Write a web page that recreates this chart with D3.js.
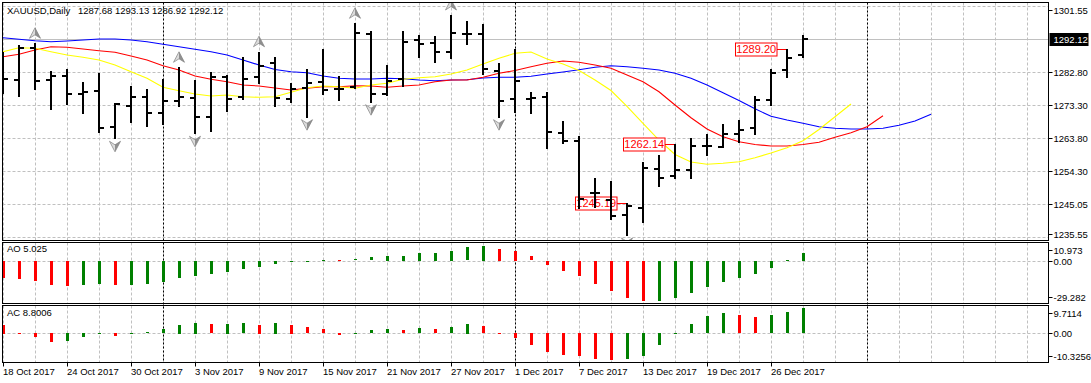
<!DOCTYPE html>
<html><head><meta charset="utf-8">
<script src="https://cdn.jsdelivr.net/npm/d3@7"></script>
<style>
html,body{margin:0;padding:0;background:#fff;}
svg{display:block;font-family:"Liberation Sans",Arial,sans-serif;}
</style></head><body>
<svg id="chart" width="1091" height="383"></svg>
<script>
// ---------------- DATA ----------------
const symbolTitle = "XAUUSD,Daily";
const headerValues = "1287.68 1293.13 1286.92 1292.12";
const aoTitle = "AO 5.025";
const acTitle = "AC 8.8006";

const dates = ["18 Oct 2017","19 Oct 2017","20 Oct 2017","23 Oct 2017","24 Oct 2017","25 Oct 2017","26 Oct 2017","27 Oct 2017",
"30 Oct 2017","31 Oct 2017","1 Nov 2017","2 Nov 2017","3 Nov 2017","6 Nov 2017","7 Nov 2017","8 Nov 2017","9 Nov 2017",
"10 Nov 2017","13 Nov 2017","14 Nov 2017","15 Nov 2017","16 Nov 2017","17 Nov 2017","20 Nov 2017","21 Nov 2017","22 Nov 2017",
"23 Nov 2017","24 Nov 2017","27 Nov 2017","28 Nov 2017","29 Nov 2017","30 Nov 2017","1 Dec 2017","4 Dec 2017","5 Dec 2017",
"6 Dec 2017","7 Dec 2017","8 Dec 2017","11 Dec 2017","12 Dec 2017","13 Dec 2017","14 Dec 2017","15 Dec 2017","18 Dec 2017",
"19 Dec 2017","20 Dec 2017","21 Dec 2017","22 Dec 2017","26 Dec 2017","27 Dec 2017","28 Dec 2017"];

const open = [1283.26,1280.41,1289.46,1280.41,1281.55,1276.41,1277.26,1267.06,1272.98,1275.64,1271.06,1274.41,1275.35,1269.92,
1281.35,1275.64,1281.18,1285.18,1274.89,1278.21,1279.92,1277.92,1278.32,1293.46,1276.41,1280.61,1291.84,1290.89,1288.49,
1293.55,1293.46,1283.06,1274.89,1274.89,1275.64,1265.35,1262.89,1248.12,1246.12,1241.84,1243.75,1254.98,1252.89,1254.78,
1261.55,1261.35,1265.12,1266.78,1274.69,1283.26,1287.68];
const high = [1288.49,1290.41,1290.89,1283.06,1283.55,1279.92,1282.49,1273.75,1278.69,1277.75,1280.69,1284.04,1280.41,1282.78,
1281.84,1287.06,1288.49,1286.89,1279.46,1283.46,1289.18,1281.55,1296.61,1294.49,1284.69,1294.41,1293.26,1292.98,1298.98,
1297.26,1296.41,1285.35,1289.18,1276.89,1276.89,1268.78,1264.41,1252.32,1251.55,1245.19,1256.89,1258.98,1262.14,1263.84,
1264.89,1267.75,1268.98,1275.84,1283.46,1289.20,1293.13];
const low = [1276.78,1275.92,1277.75,1272.21,1273.46,1270.89,1265.64,1263.75,1268.49,1267.26,1267.84,1272.98,1265.18,1265.92,
1271.64,1274.98,1279.64,1272.98,1274.21,1269.92,1276.41,1274.69,1278.04,1274.21,1276.12,1278.78,1286.89,1285.64,1286.61,
1290.61,1282.04,1269.92,1271.35,1270.89,1260.89,1262.32,1243.75,1244.04,1240.61,1236.12,1239.92,1250.21,1252.49,1252.49,
1258.89,1261.18,1262.78,1264.89,1273.18,1281.35,1286.92];
const close = [1280.69,1289.46,1280.21,1281.55,1276.41,1276.89,1266.61,1273.55,1275.64,1271.06,1274.41,1275.64,1269.75,1281.35,
1274.98,1280.78,1284.49,1275.26,1277.75,1279.64,1277.55,1277.85,1293.92,1276.41,1280.12,1291.35,1290.78,1288.49,1293.92,
1293.60,1283.46,1274.49,1280.04,1275.35,1265.64,1262.98,1246.41,1248.05,1241.64,1244.41,1255.18,1252.32,1254.69,1261.64,
1261.60,1264.89,1266.12,1274.61,1282.32,1286.61,1292.12];

// Alligator lines (values as drawn, already shifted forward)
const jaw = [1292.49,1292.04,1291.64,1291.35,1291.55,1291.84,1292.12,1292.12,1291.84,1291.35,1290.61,1289.92,1289.18,1288.49,
1287.55,1286.12,1284.69,1283.41,1282.78,1282.49,1281.55,1280.89,1280.69,1280.69,1280.89,1280.78,1280.41,1280.21,1280.41,
1280.49,1280.98,1281.18,1281.18,1281.49,1282.12,1282.69,1283.35,1284.04,1284.49,1284.21,1283.75,1283.26,1282.32,1280.89,
1278.98,1276.78,1274.55,1272.18,1270.04,1268.98,1268.04,1267.06,1266.61,1266.41,1266.41,1266.61,1267.46,1268.69,1270.61];
const teeth = [1287.06,1287.75,1288.98,1289.92,1289.75,1289.26,1288.78,1288.32,1287.26,1286.12,1284.49,1283.26,1281.55,1280.61,
1279.92,1278.98,1278.69,1278.12,1277.55,1278.04,1278.49,1278.49,1278.78,1278.69,1278.32,1278.69,1278.98,1279.92,1280.41,
1280.41,1281.18,1282.32,1283.12,1284.21,1285.18,1285.84,1285.46,1284.69,1283.75,1281.84,1279.92,1277.06,1273.26,1269.61,
1266.41,1264.21,1262.75,1261.98,1261.55,1261.55,1261.98,1262.61,1264.04,1265.35,1267.06,1270.21];
const lips = [1288.49,1289.64,1289.46,1288.49,1287.55,1286.89,1286.12,1284.69,1282.78,1280.89,1278.32,1277.35,1276.41,1275.84,
1276.12,1275.64,1275.46,1275.64,1276.89,1278.21,1278.69,1278.49,1278.04,1278.98,1279.46,1280.61,1281.06,1281.35,1282.12,
1283.26,1284.98,1286.61,1288.04,1288.41,1286.41,1284.98,1283.12,1280.41,1277.41,1272.84,1267.98,1263.26,1259.12,1256.98,
1256.32,1256.61,1257.06,1258.18,1259.55,1261.04,1263.04,1266.26,1269.92,1273.55];

const ao = [-12.4,-13.1,-14.9,-17.8,-17.95,-17.3,-17.1,-17.9,-17.3,-17.1,-15.6,-12.6,-11.1,-9.3,-7.8,-5.8,-4.3,-2.0,-0.75,-0.3,
0.6,0.35,0.9,2.5,3.5,3.6,5.5,5.8,7.3,9.8,10.973,8.6,7.2,3.2,-2.7,-7.1,-10.7,-16.6,-21.7,-26.8,-29.282,-29.0,-27.1,-23.2,
-18.8,-15.1,-12.2,-9.3,-4.9,0.6,5.8];
const ac = [3.3,-0.2,-1.7,-3.5,-3.1,-1.5,-0.4,-1.1,-0.3,0.5,1.7,3.3,4.1,3.6,3.7,3.8,3.3,4.1,3.3,2.5,1.7,-0.7,0.3,1.2,1.6,1.3,
2.1,1.7,2.5,3.7,2.9,0.15,-1.8,-4.6,-7.3,-8.4,-8.8,-10.2,-10.3256,-10.1,-8.8,-4.5,0.2,3.6,6.7,7.9,7.1,6.3,7.1,8.25,9.7114];

const fractalUp = [2, 11, 16, 22, 28];
const fractalDown = [7, 12, 19, 23, 31, 39];

const markBars = [39, 42, 49];
const markValues = [1245.19, 1262.14, 1289.20];

const priceTicks = [1301.55, 1282.80, 1273.30, 1263.80, 1254.30, 1245.05, 1235.55];
const bidPrice = 1292.12;
const aoTicks = [10.973, 0, -29.282];
const aoTickLabels = ["10.973", "0.00", "-29.282"];
const acTicks = [9.7114, 0, -10.3256];
const acTickLabels = ["9.7114", "0.00", "-10.3256"];
const separators = [10, 32, 54];

// ---------------- LAYOUT ----------------
const L = 2.5, R = 1048.5;
const main = {top: 2.5, bottom: 240.5};
const aoP = {top: 242.5, bottom: 303.5};
const acP = {top: 305.5, bottom: 362.5};

const svg = d3.select("#chart");
const x = d3.scaleLinear().domain([0, 1]).range([3, 19]);
const y = d3.scaleLinear().domain([1235.55, 1301.55]).range([237, 6]);
const yAO = d3.scaleLinear().domain([-29.282, 10.973]).range([300.7, 245.7]);
const yAC = d3.scaleLinear().domain([-10.3256, 9.7114]).range([360, 308.2]);

const FONT = "9.5px";
const defs = svg.append("defs");
[["clipMain", main], ["clipAO", aoP], ["clipAC", acP]].forEach(([id, p]) => {
  defs.append("clipPath").attr("id", id).append("rect")
    .attr("x", L).attr("y", p.top).attr("width", R - L).attr("height", p.bottom - p.top);
});

// grid
const gridX = d3.range(0, 66, 2).filter(i => x(i) < R);
const grid = svg.append("g");
[main, aoP, acP].forEach(p => {
  grid.selectAll(null).data(gridX).enter().append("line")
    .attr("x1", i => Math.round(x(i)) + 0.5).attr("x2", i => Math.round(x(i)) + 0.5)
    .attr("y1", p.top).attr("y2", p.bottom)
    .attr("stroke", "#c0c0c0").attr("stroke-dasharray", "3,2");
});
grid.selectAll(null).data(priceTicks.concat([bidPrice])).enter().append("line")
  .attr("x1", L).attr("x2", R)
  .attr("y1", d => Math.round(y(d)) + 0.5).attr("y2", d => Math.round(y(d)) + 0.5)
  .attr("stroke", "#c0c0c0").attr("stroke-dasharray", "3,2");
grid.append("line").attr("x1", L).attr("x2", R)
  .attr("y1", Math.round(yAO(0)) + 0.5).attr("y2", Math.round(yAO(0)) + 0.5)
  .attr("stroke", "#c0c0c0").attr("stroke-dasharray", "3,2");
grid.append("line").attr("x1", L).attr("x2", R)
  .attr("y1", Math.round(yAC(0)) + 0.5).attr("y2", Math.round(yAC(0)) + 0.5)
  .attr("stroke", "#c0c0c0").attr("stroke-dasharray", "3,2");

// bid line
svg.append("line").attr("x1", L).attr("x2", R)
  .attr("y1", Math.round(y(bidPrice)) + 0.5).attr("y2", Math.round(y(bidPrice)) + 0.5)
  .attr("stroke", "#c0c0c0");

// separators
svg.selectAll(null).data(separators).enter().append("line")
  .attr("x1", i => Math.round(x(i)) + 0.5).attr("x2", i => Math.round(x(i)) + 0.5)
  .attr("y1", main.top).attr("y2", acP.bottom)
  .attr("stroke", "#000").attr("stroke-dasharray", "2,2");

// main content
const gm = svg.append("g").attr("clip-path", "url(#clipMain)");
const lineGen = d3.line().x((d, i) => x(i)).y(d => y(d));
[[jaw, "#0000ff"], [teeth, "#ff0000"], [lips, "#ffff00"]].forEach(([arr, c]) => {
  gm.append("path").datum(arr).attr("d", lineGen).attr("fill", "none")
    .attr("stroke", c).attr("stroke-width", 1.1);
});

// price marks (drawn under the bars, as in the terminal)
markBars.forEach((b, k) => {
  const v = markValues[k];
  const yy = Math.round(y(v)) + 0.5;
  const bx = Math.round(x(b));
  const right = bx - 10;
  gm.append("line").attr("x1", right).attr("x2", bx).attr("y1", yy).attr("y2", yy).attr("stroke", "#ff0000");
  gm.append("rect").attr("x", right - 41.5).attr("y", yy - 6.5).attr("width", 41.5).attr("height", 13)
    .attr("fill", "#fff").attr("stroke", "#ff0000");
  gm.append("text").attr("x", right - 20.75).attr("y", yy).attr("dy", "0.36em")
    .attr("text-anchor", "middle").attr("fill", "#ff0000").style("font-size", "11px")
    .text(d3.format(".2f")(v));
});

const idx = d3.range(open.length);
const bars = gm.append("g").attr("fill", "#000");
bars.selectAll(null).data(idx).enter().append("rect")
  .attr("x", i => Math.round(x(i)) - 1).attr("width", 2)
  .attr("y", i => Math.round(y(high[i])))
  .attr("height", i => Math.max(1, Math.round(y(low[i])) - Math.round(y(high[i])) + 1));
bars.selectAll(null).data(idx).enter().append("rect")
  .attr("x", i => Math.round(x(i)) - 5).attr("width", 5)
  .attr("y", i => Math.round(y(open[i])) - 1).attr("height", 2);
bars.selectAll(null).data(idx).enter().append("rect")
  .attr("x", i => Math.round(x(i))).attr("width", 5)
  .attr("y", i => Math.round(y(close[i])) - 1).attr("height", 2);

// fractals
function arrow(g, cx, cy, dir) {
  const a = g.append("g").attr("transform", `translate(${cx},${cy}) scale(1,${dir})`);
  a.append("path").attr("d", "M0,-5.5 L0,1.5 L-5.5,5 Z").attr("fill", "#dcdcdc");
  a.append("path").attr("d", "M0,-5.5 L5.5,5 L0,1.5 Z").attr("fill", "#909090");
  a.append("path").attr("d", "M0,-5.5 L5.5,5 L0,1.5 L-5.5,5 Z").attr("fill", "none")
    .attr("stroke", "#808080").attr("stroke-width", 0.7);
}
fractalUp.forEach(i => arrow(gm, x(i), y(high[i]) - 10, 1));
fractalDown.forEach(i => arrow(gm, x(i), y(low[i]) + 8, -1));

// AO / AC histograms
function hist(data, sc, clip) {
  const g = svg.append("g").attr("clip-path", `url(#${clip})`);
  g.selectAll(null).data(data).enter().append("rect")
    .attr("x", (d, i) => Math.round(x(i)) - 1).attr("width", 3)
    .attr("y", d => Math.round(Math.min(sc(d), sc(0))))
    .attr("height", d => Math.max(1, Math.round(Math.abs(sc(d) - sc(0)))))
    .attr("fill", (d, i) => (i > 0 && d > data[i - 1]) ? "#008000" : "#ff0000");
}
hist(ao, yAO, "clipAO");
hist(ac, yAC, "clipAC");

// panel borders
[main, aoP, acP].forEach(p => {
  svg.append("rect").attr("x", L).attr("y", p.top).attr("width", R - L).attr("height", p.bottom - p.top)
    .attr("fill", "none").attr("stroke", "#000");
});

// right axis
const ax = svg.append("g").style("font-size", FONT);
function rightLabels(vals, labels, sc, p) {
  vals.forEach((v, k) => {
    let yy = sc(v);
    yy = Math.max(p.top + 7, Math.min(p.bottom - 7, yy));
    yy = Math.round(yy) + 0.5;
    ax.append("line").attr("x1", R).attr("x2", R + 4).attr("y1", yy).attr("y2", yy).attr("stroke", "#000");
    ax.append("text").attr("x", R + 5).attr("y", yy).attr("dy", "0.35em").attr("fill", "#000").text(labels[k]);
  });
}
rightLabels(priceTicks, priceTicks.map(d3.format(".2f")), y, main);
rightLabels(aoTicks, aoTickLabels, yAO, aoP);
rightLabels(acTicks, acTickLabels, yAC, acP);
// bid label
const by = Math.round(y(bidPrice)) + 0.5;
ax.append("rect").attr("x", R + 1).attr("y", by - 6.5).attr("width", 39).attr("height", 13).attr("fill", "#000");
ax.append("text").attr("x", R + 5).attr("y", by).attr("dy", "0.35em").attr("fill", "#fff").text(d3.format(".2f")(bidPrice));

// time axis
const tickIdx = d3.range(0, dates.length, 4);
const tg = svg.append("g").style("font-size", FONT);
tg.selectAll(null).data(tickIdx).enter().append("line")
  .attr("x1", i => Math.round(x(i)) + 0.5).attr("x2", i => Math.round(x(i)) + 0.5)
  .attr("y1", acP.bottom).attr("y2", acP.bottom + 4).attr("stroke", "#000");
tg.selectAll(null).data(tickIdx).enter().append("text")
  .attr("x", i => x(i)).attr("y", 372).attr("dy", "0.35em").attr("fill", "#000")
  .text(i => dates[i]);

// titles
svg.append("text").attr("x", 7).attr("y", 14).style("font-size", FONT).attr("fill", "#000").text(symbolTitle);
svg.append("text").attr("x", 78).attr("y", 14).style("font-size", FONT).attr("fill", "#000").text(headerValues);
svg.append("text").attr("x", 7).attr("y", 249).attr("dy", "0.35em").style("font-size", FONT).attr("fill", "#000").text(aoTitle);
svg.append("text").attr("x", 7).attr("y", 313).attr("dy", "0.35em").style("font-size", FONT).attr("fill", "#000").text(acTitle);
</script>
</body></html>
